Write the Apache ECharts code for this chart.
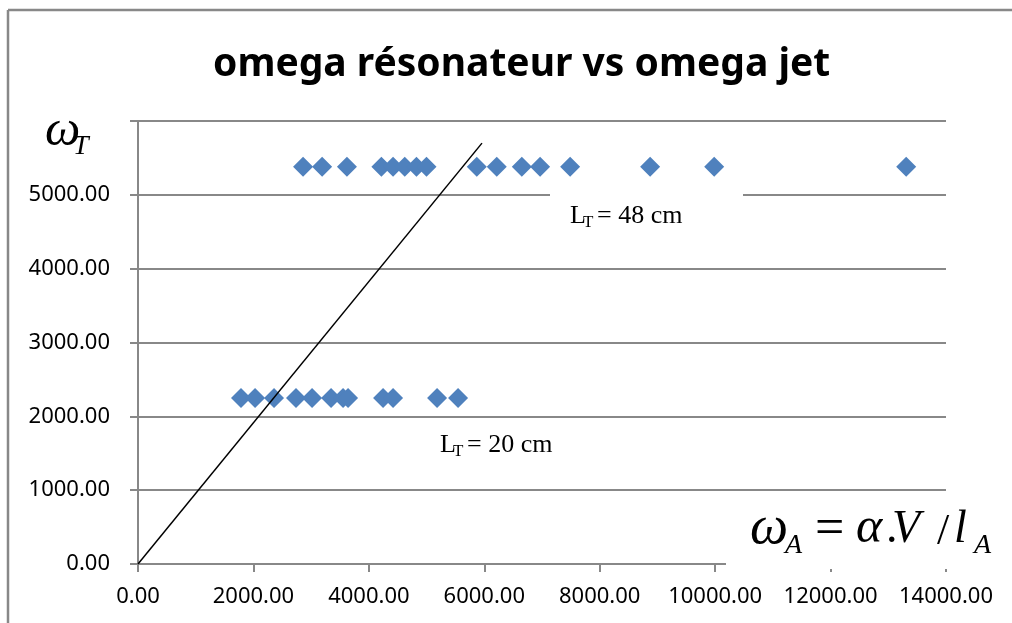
<!DOCTYPE html>
<html><head><meta charset="utf-8">
<script src="https://cdn.jsdelivr.net/npm/echarts@6/dist/echarts.min.js"></script>
<style>html,body{margin:0;padding:0;background:#fff;overflow:hidden}#c{width:1012px;height:623px}</style>
</head><body><div id="c"></div>
<script>
// ---- data ----
const titleText = 'omega résonateur vs omega jet';
// L_T = 48 cm series (omega_A, omega_T)
const jet48 = [2860, 3190, 3620, 4217, 4419, 4622, 4825, 4999, 5870, 6216, 6650, 6967, 7487, 8873, 9983, 13310];
const res48 = [5380, 5380, 5380, 5380, 5380, 5380, 5380, 5380, 5380, 5380, 5380, 5380, 5380, 5380, 5380, 5380];
// L_T = 20 cm series
const jet20 = [1785, 2028, 2357, 2738, 3016, 3345, 3553, 3640, 4246, 4419, 5182, 5546];
const res20 = [2250, 2250, 2250, 2250, 2250, 2250, 2250, 2250, 2250, 2250, 2250, 2250];
// reference line
const lineJet = [0, 5960];
const lineRes = [0, 5700];
const xMin = 0, xMax = 14000, xStep = 2000;
const yMin = 0, yMax = 6000, yStep = 1000;

const pts48 = jet48.map((x, i) => [x, res48[i]]);
const pts20 = jet20.map((x, i) => [x, res20[i]]);
const ptsLine = lineJet.map((x, i) => [x, lineRes[i]]);

const serif = '"Liberation Serif", "DejaVu Serif", serif';
const grey = '#888888';
function t(x, y, text, size, italic, extra) {
  return {
    type: 'text', x: x, y: y, z: 100,
    style: Object.assign({
      text: text, fill: '#000', font: (italic ? 'italic ' : '') + size + 'px ' + serif,
      verticalAlign: 'middle', align: 'left'
    }, extra || {})
  };
}

const chart = echarts.init(document.getElementById('c'));
chart.setOption({
  animation: false,
  backgroundColor: '#fff',
  title: {
    text: titleText, left: 208, top: 40,
    textStyle: { fontFamily: '"Noto Sans", sans-serif', fontWeight: 'bold', fontSize: 39, color: '#000' }
  },
  grid: { left: 138, right: 66, top: 121, bottom: 59 },
  xAxis: {
    type: 'value', min: xMin, max: xMax, interval: xStep,
    axisLine: { show: true, lineStyle: { color: grey, width: 2 } },
    axisTick: { show: true, length: 8, lineStyle: { color: grey, width: 2 } },
    splitLine: { show: false },
    axisLabel: { margin: 22, color: '#000', fontSize: 22, fontFamily: '"Noto Sans", sans-serif',
      formatter: v => v.toFixed(2) }
  },
  yAxis: {
    type: 'value', min: yMin, max: yMax, interval: yStep,
    axisLine: { show: true, lineStyle: { color: grey, width: 2 } },
    axisTick: { show: true, length: 8, lineStyle: { color: grey, width: 2 } },
    splitLine: { show: true, lineStyle: { color: grey, width: 2 } },
    axisLabel: { margin: 28, color: '#000', fontSize: 22, fontFamily: '"Noto Sans", sans-serif',
      formatter: v => v >= yMax ? '' : v.toFixed(2) }
  },
  series: [
    { type: 'scatter', data: pts48, symbol: 'diamond', symbolSize: 20, itemStyle: { color: '#4f81bd', opacity: 1 }, z: 2 },
    { type: 'scatter', data: pts20, symbol: 'diamond', symbolSize: 20, itemStyle: { color: '#4f81bd', opacity: 1 }, z: 2 },
    { type: 'line', data: ptsLine, symbol: 'none', lineStyle: { color: '#000', width: 1.5 }, z: 3 }
  ],
  graphic: [
    // outer frame (left and top edges only)
    { type: 'line', shape: { x1: 8, y1: 10, x2: 8, y2: 623 }, style: { stroke: grey, lineWidth: 2.5 }, z: 50 },
    { type: 'line', shape: { x1: 8, y1: 10, x2: 1012, y2: 10 }, style: { stroke: grey, lineWidth: 2.5 }, z: 50 },
    // white boxes of the text boxes
    { type: 'rect', shape: { x: 550, y: 186, width: 193, height: 52 }, style: { fill: '#fff' }, z: 90 },
    { type: 'rect', shape: { x: 726, y: 498, width: 286, height: 71 }, style: { fill: '#fff' }, z: 90 },
    // omega_T
    t(45, 132, 'ω', 50, true),
    t(73, 147, 'T', 28, true),
    // L_T = 48 cm
    t(570, 216, 'L', 26, false),
    t(583, 223, 'T', 17, false),
    t(597, 216, '= 48 cm', 26, false),
    // L_T = 20 cm
    t(440, 445, 'L', 26, false),
    t(453, 452, 'T', 17, false),
    t(467, 445, '= 20 cm', 26, false),
    // omega_A = alpha.V / l_A
    t(750, 529, 'ω', 54, true),
    t(785, 546, 'A', 28, true),
    t(815, 530, '=', 52, false),
    t(856, 529, 'α', 50, true),
    t(886, 530, '.', 46, false),
    t(892, 530, 'V', 46, true),
    t(937, 532, '/', 44, false),
    t(954, 530, 'l', 46, true),
    t(974, 546, 'A', 28, true)
  ]
});
</script>
</body></html>
